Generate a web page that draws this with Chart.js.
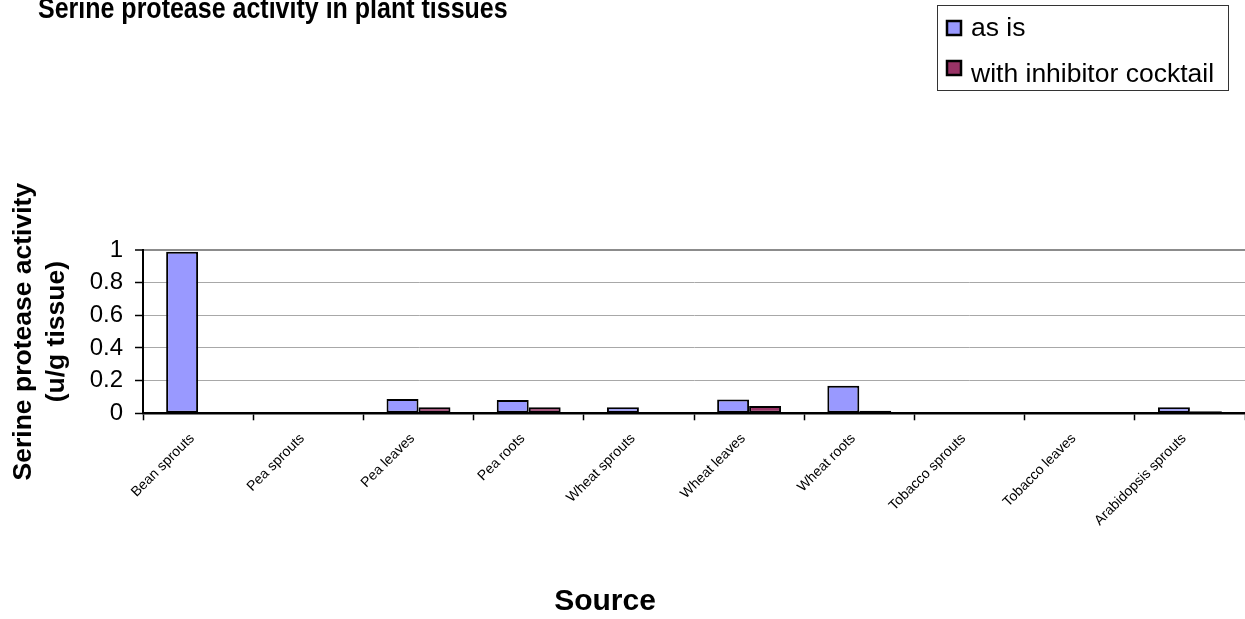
<!DOCTYPE html>
<html>
<head>
<meta charset="utf-8">
<title>Serine protease activity in plant tissues</title>
<script src="https://cdn.jsdelivr.net/npm/chart.js@4/dist/chart.umd.min.js"></script>
<style>
  html, body { margin: 0; padding: 0; background: #ffffff; }
  #wrap { width: 1245px; height: 619px; position: relative; }
</style>
</head>
<body>
<div id="wrap"><canvas id="chart" width="1245" height="619"></canvas></div>
<script>
// Tissue sources along the x axis
const categories = [
  'Bean sprouts', 'Pea sprouts', 'Pea leaves', 'Pea roots', 'Wheat sprouts',
  'Wheat leaves', 'Wheat roots', 'Tobacco sprouts', 'Tobacco leaves', 'Arabidopsis sprouts'
];
// Serine protease activity, u/g tissue
const asIs = [0.99, 0, 0.087, 0.082, 0.037, 0.085, 0.169, 0, 0, 0.037];
const withInhibitor = [0, 0, 0.037, 0.037, 0, 0.044, 0.015, 0, 0, 0.013];
// Value axis ticks
const yTicks = [0, 0.2, 0.4, 0.6, 0.8, 1];

const seriesNames = ['as is', 'with inhibitor cocktail'];
const chartTitle = 'Serine protease activity in plant tissues';
const xTitle = 'Source';
const yTitle = ['Serine protease activity', '(u/g tissue)'];

const FONT = '"Liberation Sans", Arial, Helvetica, sans-serif';

// Heading, boxed legend and x-axis caption drawn on top of the chart
const annotations = {
  id: 'annotations',
  afterDraw(chart) {
    const ctx = chart.ctx;
    ctx.save();
    ctx.fillStyle = '#000';
    ctx.textAlign = 'left';
    ctx.textBaseline = 'alphabetic';

    // heading (slightly tall lettering)
    ctx.save();
    ctx.translate(38, 18);
    ctx.scale(1, 1.18);
    ctx.font = 'bold 25px ' + FONT;
    ctx.fillText(chartTitle, 0, 0);
    ctx.restore();

    // legend frame
    ctx.strokeStyle = '#333';
    ctx.lineWidth = 1;
    ctx.strokeRect(937.5, 5.5, 291, 85);

    ctx.font = '26.5px ' + FONT;
    const rows = [{ sq: 21, base: 36 }, { sq: 61, base: 82 }];
    chart.data.datasets.forEach((ds, i) => {
      const r = rows[i];
      ctx.fillStyle = ds.backgroundColor;
      ctx.fillRect(947, r.sq, 14, 14);
      ctx.strokeStyle = '#000';
      ctx.lineWidth = 2.5;
      ctx.strokeRect(947, r.sq, 14, 14);
      ctx.fillStyle = '#000';
      ctx.fillText(ds.label, 971, r.base);
    });

    // x-axis caption
    ctx.font = 'bold 30px ' + FONT;
    ctx.textAlign = 'center';
    ctx.fillText(xTitle, 605, 610);
    ctx.restore();
  }
};

new Chart(document.getElementById('chart'), {
  type: 'bar',
  data: {
    labels: categories,
    datasets: [
      {
        label: seriesNames[0],
        data: asIs,
        backgroundColor: '#9999FF',
        borderColor: '#000000',
        borderWidth: 2,
        borderSkipped: false,
        barPercentage: 1.0,
        categoryPercentage: 0.58
      },
      {
        label: seriesNames[1],
        data: withInhibitor,
        backgroundColor: '#993366',
        borderColor: '#000000',
        borderWidth: 2,
        borderSkipped: false,
        barPercentage: 1.0,
        categoryPercentage: 0.58
      }
    ]
  },
  options: {
    responsive: false,
    animation: false,
    devicePixelRatio: 1,
    layout: { padding: { top: 250, right: 0, bottom: 0, left: 0 } },
    plugins: {
      legend: { display: false },
      title: { display: false },
      tooltip: { enabled: false }
    },
    scales: {
      x: {
        offset: true,
        grid: {
          display: true,
          offset: true,
          drawOnChartArea: false,
          drawTicks: true,
          tickLength: 7,
          tickColor: '#000',
          tickWidth: 1.5
        },
        border: { display: true, color: '#000', width: 2.5 },
        ticks: {
          color: '#000',
          font: { family: FONT, size: 14 },
          minRotation: 45,
          maxRotation: 45,
          autoSkip: false,
          padding: 10,
          labelOffset: -6
        },
        afterFit(scale) { scale.height = 619 - 413.3; }
      },
      y: {
        min: 0,
        max: 1,
        afterBuildTicks(scale) { scale.ticks = yTicks.map(v => ({ value: v })); },
        grid: {
          color: (c) => (c.tick && c.tick.value === 1 ? '#8c8c8c' : '#a8a8a8'),
          lineWidth: (c) => (c.tick && c.tick.value === 1 ? 2 : 1),
          drawTicks: true,
          tickLength: 8,
          tickColor: '#000',
          tickWidth: 1.5
        },
        border: { display: true, color: '#000', width: 2 },
        ticks: {
          color: '#000',
          font: { family: FONT, size: 24 },
          padding: 12,
          callback: (v) => String(v)
        },
        title: {
          display: true,
          text: yTitle,
          color: '#000',
          font: { family: FONT, size: 26.5, weight: 'bold', lineHeight: 1.26 },
          padding: { top: 7, bottom: 0 }
        },
        afterFit(scale) { scale.width = 143; }
      }
    }
  },
  plugins: [annotations]
});
</script>
</body>
</html>
